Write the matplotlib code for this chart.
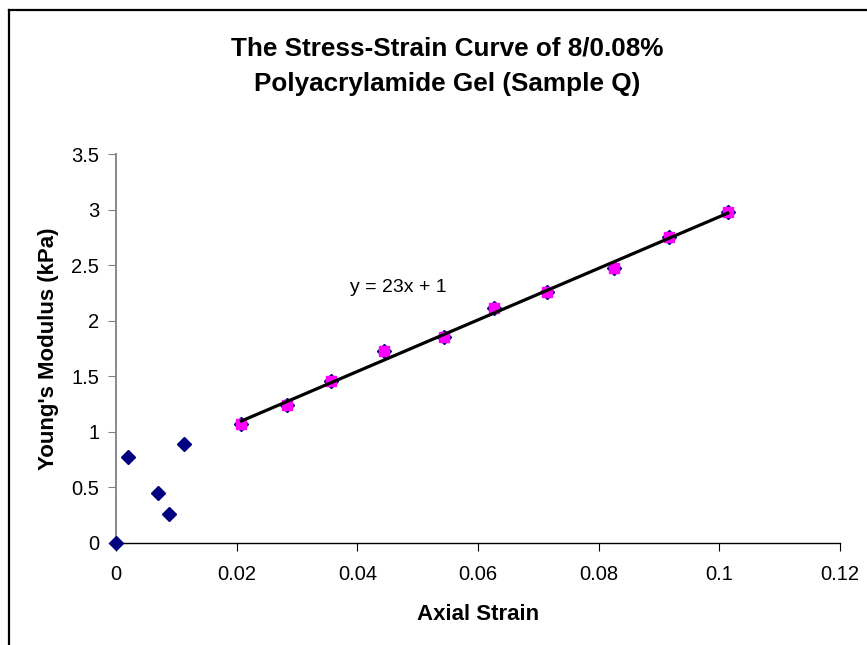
import numpy as np
import matplotlib.pyplot as plt
from matplotlib.lines import Line2D

plt.rcParams["font.family"] = ["Liberation Sans", "DejaVu Sans"]

# all measured points (axial strain, modulus in kPa)
strain = [0.0, 0.002, 0.007, 0.0088, 0.0112, 0.0208, 0.0284, 0.0357, 0.0445,
          0.0543, 0.0626, 0.0715, 0.0825, 0.0917, 0.1014]
modulus = [0.0, 0.77, 0.45, 0.26, 0.89, 1.07, 1.24, 1.46, 1.73,
           1.85, 2.11, 2.26, 2.47, 2.75, 2.98]

# linear region used for the fit
fit_strain = strain[5:]
fit_modulus = modulus[5:]

x_ticks = [0, 0.02, 0.04, 0.06, 0.08, 0.1, 0.12]
x_tick_labels = ["0", "0.02", "0.04", "0.06", "0.08", "0.1", "0.12"]
y_ticks = [0, 0.5, 1, 1.5, 2, 2.5, 3, 3.5]
y_tick_labels = ["0", "0.5", "1", "1.5", "2", "2.5", "3", "3.5"]

title_lines = ["The Stress-Strain Curve of 8/0.08%", "Polyacrylamide Gel (Sample Q)"]

W, H = 867, 645
fig = plt.figure(figsize=(W / 100, H / 100), dpi=100)
ax = fig.add_axes([116 / W, 1 - 543 / H, (840 - 116) / W, (543 - 154) / H])

ax.plot(strain, modulus, linestyle="none", marker="D", markersize=7,
        color="#000080", zorder=3, clip_on=False)
ax.plot(fit_strain, fit_modulus, linestyle="none", marker="s", markersize=7.5,
        color="#FF00FF", zorder=4, clip_on=False)

slope, intercept = np.polyfit(fit_strain, fit_modulus, 1)
xs = np.array([fit_strain[0], fit_strain[-1]])
ax.plot(xs, slope * xs + intercept, color="black", linewidth=2.3, zorder=5)

ax.text(0.0468, 2.3, "y = 23x + 1", fontsize=14, ha="center", va="center")

ax.set_xlim(0, 0.12)
ax.set_ylim(0, 3.5)
ax.set_xticks(x_ticks)
ax.set_xticklabels(x_tick_labels)
ax.set_yticks(y_ticks)
ax.set_yticklabels(y_tick_labels)
ax.tick_params(axis="both", labelsize=14.5, direction="out", length=6)
ax.tick_params(axis="x", pad=10, color="black")
ax.tick_params(axis="y", pad=6, color="#808080")

ax.spines["top"].set_visible(False)
ax.spines["right"].set_visible(False)
ax.spines["left"].set_color("#808080")
ax.spines["left"].set_linewidth(1.3)
ax.spines["bottom"].set_color("black")
ax.spines["bottom"].set_linewidth(1.0)

ax.set_xlabel("Axial Strain", fontsize=16, fontweight="bold", labelpad=14)
ax.set_ylabel("Young's Modulus (kPa)", fontsize=16, fontweight="bold", labelpad=9)

# title, two lines placed on their baselines
fig.text(447 / W, 1 - 56 / H, title_lines[0], ha="center", va="baseline",
         fontsize=18.8, fontweight="bold")
fig.text(447 / W, 1 - 91 / H, title_lines[1], ha="center", va="baseline",
         fontsize=18.8, fontweight="bold")

# outer chart frame (only left and top edges are visible)
fx = 8.5 / W
fy = 1 - 10 / H
fig.add_artist(Line2D([fx, fx], [-0.1, fy], transform=fig.transFigure, color="black", linewidth=1.6))
fig.add_artist(Line2D([fx, 1.1], [fy, fy], transform=fig.transFigure, color="black", linewidth=1.6))

fig.savefig("out.png", dpi=100)
plt.close(fig)
